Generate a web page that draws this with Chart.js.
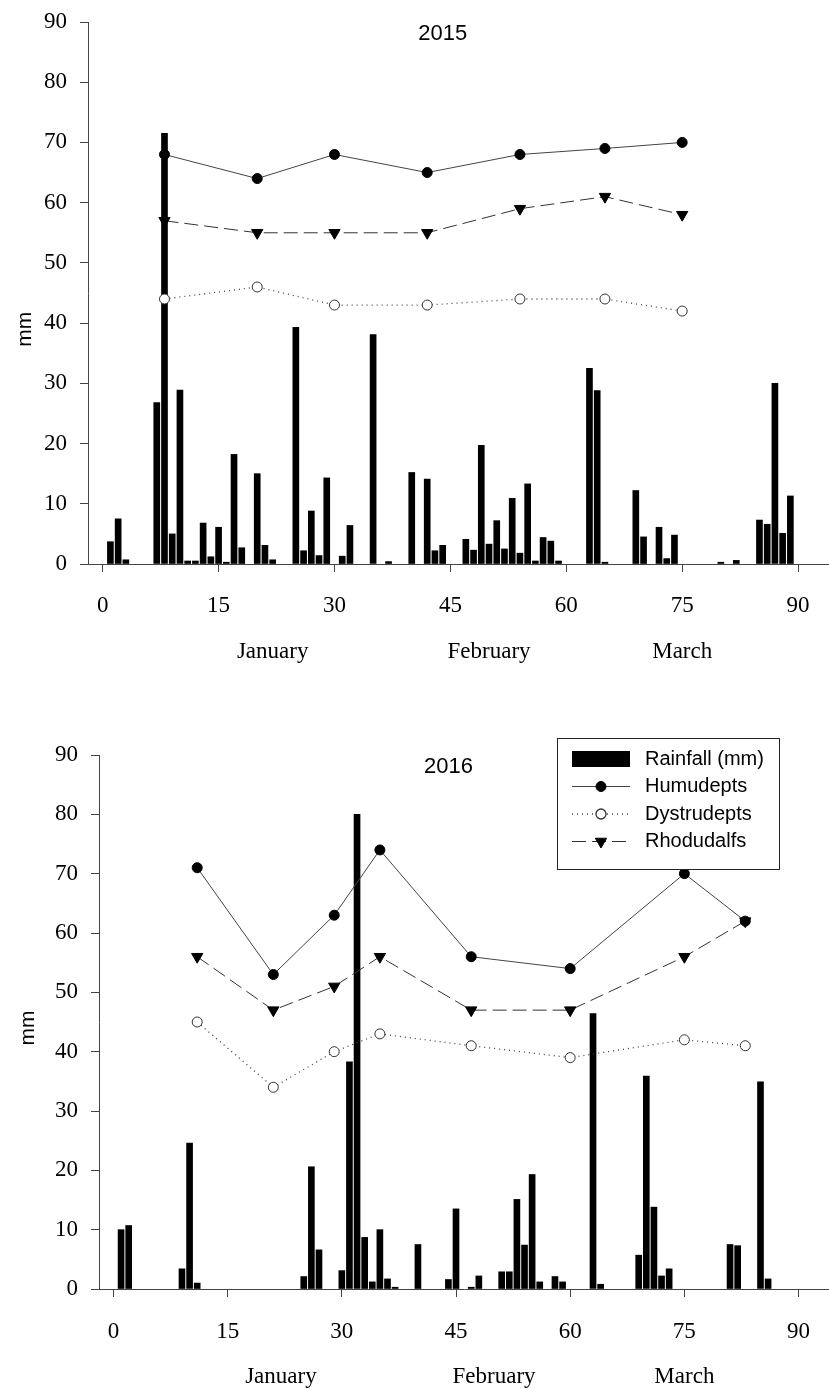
<!DOCTYPE html>
<html>
<head>
<meta charset="utf-8">
<title>Rainfall and soil water, 2015 and 2016</title>
<script src="https://cdn.jsdelivr.net/npm/chart.js@4.4.0/dist/chart.umd.min.js"></script>
<style>
  html, body { margin: 0; padding: 0; background: #fff; }
  canvas { display: block; }
</style>
</head>
<body>
<canvas id="chart2015" width="829" height="700"></canvas>
<canvas id="chart2016" width="829" height="689"></canvas>
<script>
'use strict';

// axis ticks and month names
let xTicks = [0, 15, 30, 45, 60, 75, 90];
let yTicks = [0, 10, 20, 30, 40, 50, 60, 70, 80, 90];
let monthNames = ['January', 'February', 'March'];
let monthDays = [22, 50, 75];

// 2015 daily rainfall (mm)
let rainDays2015 = [1, 2, 3, 7, 8, 9, 10, 11, 12, 13, 14, 15, 16, 17, 18, 20, 21, 22, 25, 26,
  27, 28, 29, 31, 32, 35, 37, 40, 42, 43, 44, 47, 48, 49, 50, 51, 52, 53, 54, 55,
  56, 57, 58, 59, 63, 64, 65, 69, 70, 72, 73, 74, 80, 82, 85, 86, 87, 88, 89];
let rain2015 = [3.7, 7.5, 0.7, 26.8, 71.5, 5.0, 28.9, 0.5, 0.5, 6.8, 1.2, 6.1, 0.3, 18.2, 2.7, 15.0, 3.1, 0.7, 39.3, 2.2,
  8.8, 1.4, 14.3, 1.3, 6.4, 38.1, 0.4, 15.2, 14.1, 2.2, 3.1, 4.1, 2.3, 19.7, 3.3, 7.2, 2.5, 10.9, 1.8, 13.3,
  0.5, 4.4, 3.8, 0.5, 32.5, 28.8, 0.3, 12.2, 4.5, 6.1, 0.9, 4.8, 0.3, 0.6, 7.3, 6.6, 30.0, 5.1, 11.3];

// 2015 soil series
let sampleDays2015 = [8, 20, 30, 42, 54, 65, 75];
let humudepts2015 = [68, 64, 68, 65, 68, 69, 70];
let dystrudepts2015 = [44, 46, 43, 43, 44, 44, 42];
let rhodudalfs2015 = [57, 55, 55, 55, 59, 61, 58];

// 2016 daily rainfall (mm)
let rainDays2016 = [1, 2, 9, 10, 11, 25, 26, 27, 30, 31, 32, 33, 34, 35, 36, 37, 40, 44, 45, 47,
  48, 51, 52, 53, 54, 55, 56, 58, 59, 63, 64, 69, 70, 71, 72, 73, 81, 82, 85, 86];
let rain2016 = [10.0, 10.7, 3.4, 24.6, 1.0, 2.1, 20.6, 6.6, 3.1, 38.3, 80.0, 8.7, 1.2, 10.0, 1.7, 0.3, 7.5, 1.6, 13.5, 0.3,
  2.2, 2.9, 2.9, 15.1, 7.4, 19.3, 1.2, 2.1, 1.2, 46.4, 0.8, 5.7, 35.9, 13.8, 2.2, 3.4, 7.5, 7.3, 34.9, 1.7];

// 2016 soil series
let sampleDays2016 = [11, 21, 29, 35, 47, 60, 75, 83];
let humudepts2016 = [71, 53, 63, 74, 56, 54, 70, 62];
let dystrudepts2016 = [45, 34, 40, 43, 41, 39, 42, 41];
let rhodudalfs2016 = [56, 47, 51, 56, 47, 47, 56, 62];

let legendOrder = ['Rainfall (mm)', 'Humudepts', 'Dystrudepts', 'Rhodudalfs'];

let serif = '"Liberation Serif", "Times New Roman", serif';
let sans = '"Liberation Sans", Arial, sans-serif';
let axisColor = '#444';

function toPoints(xs, ys) {
  return xs.map(function (x, i) { return { x: x, y: ys[i] }; });
}

// chart.js reserves room for edge labels; the plot should run to the canvas edge
function noEdgePadding(sc) {
  sc.paddingLeft = 0;
  sc.paddingRight = 0;
  sc.paddingTop = 0;
  sc.paddingBottom = 0;
}

function drawLegend(chart, box) {
  let c = chart.ctx;
  c.save();
  c.fillStyle = '#fff';
  c.fillRect(box.left, box.top, box.width, box.height);
  c.strokeStyle = '#222';
  c.lineWidth = 1;
  c.strokeRect(box.left + 0.5, box.top + 0.5, box.width, box.height);
  for (let i = 0; i < legendOrder.length; i++) {
    let d = chart.data.datasets.find(function (ds) { return ds.label === legendOrder[i]; });
    let rowY = box.top + box.firstRow + i * box.rowGap;
    let midX = box.symLeft + box.symWidth / 2;
    if (d.type === 'bar') {
      c.fillStyle = d.backgroundColor;
      c.fillRect(box.symLeft, rowY - 8, box.symWidth, 16);
    } else {
      c.strokeStyle = d.borderColor;
      c.lineWidth = d.borderWidth;
      c.setLineDash(d.borderDash || []);
      c.beginPath();
      c.moveTo(box.symLeft, rowY);
      c.lineTo(box.symLeft + box.symWidth, rowY);
      c.stroke();
      c.setLineDash([]);
      c.fillStyle = d.pointBackgroundColor;
      c.strokeStyle = d.pointBorderColor;
      Chart.helpers.drawPoint(c, {
        pointStyle: d.pointStyle, radius: d.pointRadius,
        rotation: d.pointRotation || 0, borderWidth: 1
      }, midX, rowY);
    }
    c.fillStyle = '#000';
    c.font = '20px ' + sans;
    c.textAlign = 'left';
    c.textBaseline = 'middle';
    c.fillText(d.label, box.textLeft, rowY);
  }
  c.restore();
}

let textPlugin = {
  id: 'yearText',
  afterDraw: function (chart, args, o) {
    let c = chart.ctx;
    let x = chart.scales.x;
    let y = chart.scales.y;
    c.save();
    c.fillStyle = '#000';
    c.textAlign = 'center';
    c.textBaseline = 'middle';
    c.font = '22px ' + sans;
    c.fillText(o.title, x.getPixelForValue(o.titleAt), chart.chartArea.top + o.titleDy);
    c.translate(o.unitX, y.getPixelForValue(o.unitAt));
    c.rotate(-Math.PI / 2);
    c.font = '21px ' + sans;
    c.fillText('mm', 0, 0);
    c.restore();
    if (o.legend) {
      drawLegend(chart, o.legend);
    }
  }
};

function makeChart(id, s) {
  let ctx = document.getElementById(id).getContext('2d');
  return new Chart(ctx, {
    type: 'bar',
    data: {
      datasets: [{
        type: 'line',
        label: 'Humudepts',
        data: toPoints(s.sampleDays, s.humu),
        xAxisID: 'x', yAxisID: 'y',
        borderColor: '#444', borderWidth: 1, tension: 0, fill: false,
        pointStyle: 'circle', pointRadius: 5,
        pointBackgroundColor: '#000', pointBorderColor: '#000', pointBorderWidth: 1,
        order: 0
      }, {
        type: 'line',
        label: 'Dystrudepts',
        data: toPoints(s.sampleDays, s.dyst),
        xAxisID: 'x', yAxisID: 'y',
        borderColor: '#444', borderWidth: 1.3, borderDash: [1, 4], tension: 0, fill: false,
        pointStyle: 'circle', pointRadius: 5,
        pointBackgroundColor: '#fff', pointBorderColor: '#333', pointBorderWidth: 1,
        order: 0
      }, {
        type: 'line',
        label: 'Rhodudalfs',
        data: toPoints(s.sampleDays, s.rhod),
        xAxisID: 'x', yAxisID: 'y',
        borderColor: '#333', borderWidth: 1, borderDash: [14, 6], tension: 0, fill: false,
        pointStyle: 'triangle', pointRotation: 180, pointRadius: 6.5,
        pointBackgroundColor: '#000', pointBorderColor: '#000', pointBorderWidth: 1,
        order: 0
      }, {
        type: 'bar',
        label: 'Rainfall (mm)',
        data: toPoints(s.rainDays, s.rain),
        xAxisID: 'x', yAxisID: 'y',
        backgroundColor: '#000',
        borderWidth: 0,
        barThickness: 6,
        order: 1
      }]
    },
    options: {
      responsive: false,
      animation: false,
      layout: { autoPadding: false, padding: { top: s.padTop, right: 0, left: 0, bottom: 0 } },
      plugins: {
        legend: { display: false },
        tooltip: { enabled: false },
        yearText: {
          title: s.title, titleAt: 44, titleDy: 12,
          unitX: s.unitX, unitAt: s.unitAt,
          legend: s.legend || null
        }
      },
      scales: {
        x: {
          type: 'linear', min: -1.9, max: 94, offset: false, weight: 0,
          afterBuildTicks: function (sc) { sc.ticks = xTicks.map(function (v) { return { value: v }; }); },
          afterFit: function (sc) { sc.height = s.xHeight; noEdgePadding(sc); },
          grid: { offset: false, drawOnChartArea: false, drawTicks: true, tickLength: 8, tickColor: axisColor },
          border: { display: true, color: axisColor, width: 1 },
          ticks: { font: { family: serif, size: 23 }, color: '#000', padding: s.xPad, maxRotation: 0, autoSkip: false }
        },
        xm: {
          type: 'linear', position: 'bottom', min: -1.9, max: 94, offset: false, weight: 1,
          afterBuildTicks: function (sc) { sc.ticks = monthDays.map(function (v) { return { value: v }; }); },
          afterFit: function (sc) { sc.height = s.monthHeight; noEdgePadding(sc); },
          grid: { display: false, drawTicks: false, offset: false },
          border: { display: false },
          ticks: {
            font: { family: serif, size: 23 }, color: '#000', padding: s.monthPad, maxRotation: 0, autoSkip: false,
            callback: function (v) { return monthNames[monthDays.indexOf(v)]; }
          }
        },
        y: {
          type: 'linear', min: 0, max: 90,
          afterBuildTicks: function (sc) { sc.ticks = yTicks.map(function (v) { return { value: v }; }); },
          afterFit: function (sc) { sc.width = s.yWidth; noEdgePadding(sc); },
          grid: { offset: false, drawOnChartArea: false, drawTicks: true, tickLength: 8, tickColor: axisColor },
          border: { display: true, color: axisColor, width: 1 },
          ticks: { font: { family: serif, size: 23 }, color: '#000', padding: 13 }
        }
      }
    },
    plugins: [textPlugin]
  });
}

makeChart('chart2015', {
  title: '2015',
  rainDays: rainDays2015, rain: rain2015,
  sampleDays: sampleDays2015, humu: humudepts2015, dyst: dystrudepts2015, rhod: rhodudalfs2015,
  padTop: 22, yWidth: 88, xHeight: 56, xPad: 20, monthHeight: 80, monthPad: 18,
  unitX: 25, unitAt: 39
});

makeChart('chart2016', {
  title: '2016',
  rainDays: rainDays2016, rain: rain2016,
  sampleDays: sampleDays2016, humu: humudepts2016, dyst: dystrudepts2016, rhod: rhodudalfs2016,
  padTop: 55, yWidth: 99, xHeight: 56, xPad: 21, monthHeight: 44, monthPad: 18,
  unitX: 28, unitAt: 44,
  legend: { left: 557, top: 38, width: 222, height: 131, firstRow: 21, rowGap: 27.5, symLeft: 572, symWidth: 58, textLeft: 645 }
});
</script>
</body>
</html>
